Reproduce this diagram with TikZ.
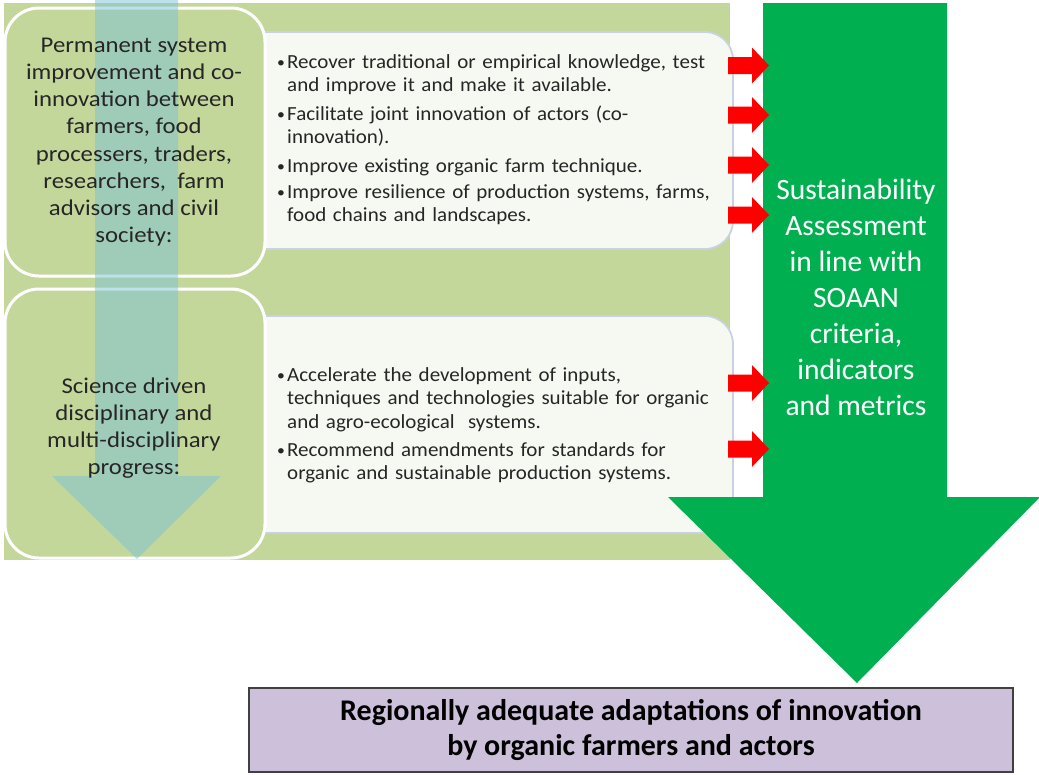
\documentclass[tikz,border=0pt]{standalone}
\usepackage{fontspec}
\setmainfont{Carlito}
\newfontfamily\leftfont[FakeStretch=1.1]{Carlito}
\newfontfamily\bulfont[FakeStretch=1.05]{Carlito}
\definecolor{bggreen}{HTML}{C4D79B}
\definecolor{tbfill}{HTML}{F6F9F1}
\definecolor{tbline}{HTML}{C9D1E3}
\definecolor{lblue}{HTML}{7CC2D8}
\definecolor{agreen}{HTML}{00B050}
\definecolor{purp}{HTML}{CCC0DA}
\definecolor{txt}{HTML}{262626}
\newcommand\redarr[1]{\fill[red] (728,#1-8.5) -- (752,#1-8.5) -- (752,#1-18) -- (769,#1) -- (752,#1+18) -- (752,#1+8.5) -- (728,#1+8.5) -- cycle;}
\tikzset{
  leftbox/.style={draw=white, line width=3, fill=bggreen, rounded corners=34},
  textbox/.style={draw=tbline, line width=1.8, fill=tbfill, rounded corners=28},
  lefttext/.style={align=center, text=txt, inner sep=0, font=\leftfont\fontsize{22.5}{27.2}\selectfont},
  bullet/.style={anchor=base west, inner sep=0, text width=470, align=left, text=txt,
     font=\bulfont\fontsize{20}{23.7}\selectfont},
}
\newcommand\bul{\makebox[10pt][l]{\raisebox{1pt}{\fontsize{15}{15}\selectfont\textbullet}}}
\newcommand\ind{\hspace*{10pt}}
\begin{document}
\begin{tikzpicture}[x=1pt,y=-1pt]
\useasboundingbox (0,0) rectangle (1039,774);
% background
\fill[bggreen] (4,3) rectangle (730,560);
% text boxes
\draw[textbox] (200,32) rectangle (733,249);
\draw[textbox] (200,316) rectangle (733,533);
% left boxes
\draw[leftbox] (5,8) rectangle (265,276);
\draw[leftbox] (5,289) rectangle (265,558);
% light blue arrow
\fill[lblue, opacity=0.5] (95,0) -- (178,0) -- (178,476) -- (221,476) -- (137,559) -- (52,476) -- (95,476) -- cycle;
% left texts
\node[lefttext] (perm) at (134,142) {Permanent system\\improvement and co-\\innovation between\\farmers, food\\processers, traders,\\researchers,\ \ farm\\advisors and civil\\society:};
\node[lefttext] (sci) at (134,428) {Science driven\\disciplinary and\\multi-disciplinary\\progress:};
% bullets top
\node[bullet] (b1) at (277,68) {\bul Recover traditional or empirical knowledge, test\\\ind and improve it and make it available.};
\node[bullet] (b2) at (277,120) {\bul Facilitate joint innovation of actors (co-\\\ind innovation).};
\node[bullet] (b3) at (277,172) {\bul Improve existing organic farm technique.};
\node[bullet] (b4) at (277,198) {\bul Improve resilience of production systems, farms,\\\ind food chains and landscapes.};
% bullets bottom
\node[bullet] (b5) at (277,381) {\bul Accelerate the development of inputs,\\\ind techniques and technologies suitable for organic\\\ind and agro-ecological\ \ systems.};
\node[bullet] (b6) at (277,456) {\bul Recommend amendments for standards for\\\ind organic and sustainable production systems.};
% green arrow
\fill[agreen] (763,3) -- (947,3) -- (947,497) -- (1040,497) -- (857,683) -- (668,497) -- (763,497) -- cycle;
\node[align=center, text=white, inner sep=0, font=\fontsize{29.5}{36}\selectfont] (sa) at (856,297) {Sustainability\\Assessment\\in line with\\SOAAN\\criteria,\\indicators\\and metrics};
% red arrows
\redarr{65.5}
\redarr{115}
\redarr{165}
\redarr{215}
\redarr{383}
\redarr{449}
% result box
\node[draw=black!75, line width=1.2, fill=purp, minimum width=764, minimum height=84, inner sep=0, align=center,
  font=\bfseries\fontsize{30}{35}\selectfont] (res) at (631,730) {Regionally adequate adaptations of innovation\\by organic farmers and actors};
\end{tikzpicture}
\end{document}
